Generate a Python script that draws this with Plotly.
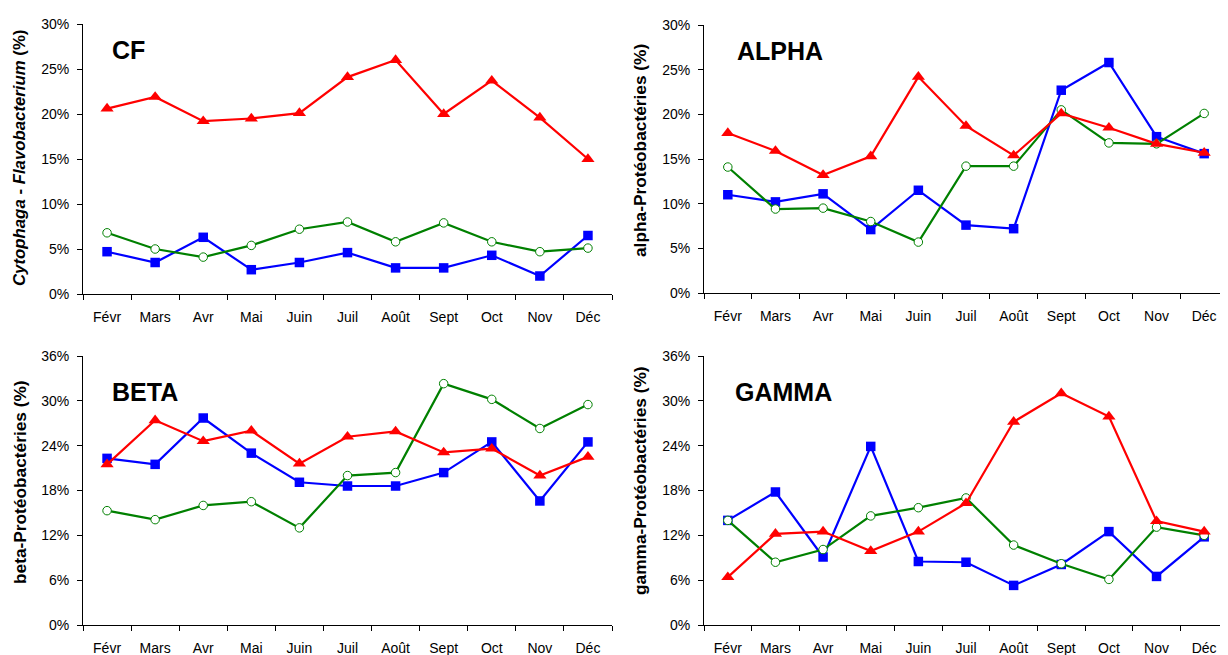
import plotly.graph_objects as go

months = ["Févr", "Mars", "Avr", "Mai", "Juin", "Juil", "Août", "Sept", "Oct", "Nov", "Déc"]

cf_red = [20.6, 21.9, 19.2, 19.5, 20.1, 24.1, 26.0, 20.0, 23.7, 19.6, 15.0]
cf_green = [6.8, 5.0, 4.1, 5.4, 7.2, 8.0, 5.8, 7.9, 5.8, 4.7, 5.1]
cf_blue = [4.7, 3.5, 6.3, 2.7, 3.5, 4.6, 2.9, 2.9, 4.3, 2.0, 6.5]

alpha_red = [17.9, 15.9, 13.2, 15.3, 24.2, 18.7, 15.4, 20.1, 18.5, 16.7, 15.7]
alpha_green = [14.1, 9.4, 9.5, 8.0, 5.7, 14.2, 14.2, 20.5, 16.8, 16.7, 20.1]
alpha_blue = [11.0, 10.2, 11.1, 7.1, 11.5, 7.6, 7.2, 22.7, 25.8, 17.5, 15.6]

beta_red = [21.5, 27.4, 24.6, 26.0, 21.6, 25.2, 25.9, 23.1, 23.6, 20.0, 22.5]
beta_green = [15.3, 14.1, 16.0, 16.5, 13.0, 20.0, 20.4, 32.3, 30.2, 26.3, 29.5]
beta_blue = [22.3, 21.5, 27.7, 23.0, 19.1, 18.6, 18.6, 20.4, 24.5, 16.6, 24.5]

gamma_red = [6.4, 12.2, 12.5, 9.9, 12.5, 16.3, 27.2, 31.0, 27.9, 13.9, 12.5]
gamma_green = [14.0, 8.4, 10.1, 14.6, 15.7, 17.0, 10.7, 8.2, 6.1, 13.1, 12.0]
gamma_blue = [14.0, 17.8, 9.1, 23.9, 8.5, 8.4, 5.3, 8.1, 12.5, 6.5, 11.8]

panel_names = ["CF", "ALPHA", "BETA", "GAMMA"]
y_titles = [
    "<i>Cytophaga</i> - <i>Flavobacterium</i> (%)",
    "alpha-Protéobactéries (%)",
    "beta-Protéobactéries (%)",
    "gamma-Protéobactéries (%)",
]
y_ticks = [[0, 5, 10, 15, 20, 25, 30], [0, 5, 10, 15, 20, 25, 30],
           [0, 6, 12, 18, 24, 30, 36], [0, 6, 12, 18, 24, 30, 36]]
series = [
    (cf_blue, cf_green, cf_red),
    (alpha_blue, alpha_green, alpha_red),
    (beta_blue, beta_green, beta_red),
    (gamma_blue, gamma_green, gamma_red),
]

# the page body has an 8px default margin, so lay out in page pixels minus 8
OFF = 8
W, H = 1228 - OFF, 655 - OFF


def fx(p):
    return (p - OFF) / W


def fy(p):
    return 1 - (p - OFF) / H


# pixel boxes in page coords: left, right, top, bottom
boxes = [(83, 612, 24, 294), (704, 1228, 25, 293), (83, 612, 356, 625), (704, 1228, 356, 625)]
title_x = [20, 640, 20, 640]
title_y = [158, 151, 482, 481]
title_size = [16.8, 17.3, 17.3, 17.3]
label_pos = [(110, 49.5), (735, 51.5), (110, 392), (733, 392)]

FONT = "Liberation Sans, Arial, sans-serif"
fig = go.Figure()

for i in range(4):
    ax = "" if i == 0 else str(i + 1)
    xa, ya = "x" + ax, "y" + ax
    blue, green, red = series[i]
    fig.add_trace(go.Scatter(x=months, y=blue, xaxis=xa, yaxis=ya, mode="lines+markers",
                             line=dict(color="#0000FF", width=2.2),
                             marker=dict(symbol="square", size=9.5, color="#0000FF"),
                             showlegend=False, cliponaxis=False))
    fig.add_trace(go.Scatter(x=months, y=green, xaxis=xa, yaxis=ya, mode="lines+markers",
                             line=dict(color="#008000", width=2.2),
                             marker=dict(symbol="circle", size=8.5, color="white",
                                         line=dict(color="#008000", width=1)),
                             showlegend=False, cliponaxis=False))
    fig.add_trace(go.Scatter(x=months, y=red, xaxis=xa, yaxis=ya, mode="lines+markers",
                             line=dict(color="#FF0000", width=2.2),
                             marker=dict(symbol="triangle-up", size=11.5, color="#FF0000"),
                             showlegend=False, cliponaxis=False))

    l, r, t, b = boxes[i]
    top = y_ticks[i][-1]
    fig.update_layout(**{
        "xaxis" + ax: dict(domain=[fx(l), min(fx(r), 1)], anchor=ya, type="category",
                           categoryorder="array", categoryarray=months,
                           range=[-0.5, 10.5], tickson="boundaries",
                           ticks="outside", ticklen=5, tickcolor="black",
                           showline=True, linecolor="black", linewidth=1,
                           showgrid=False, zeroline=False, ticklabelstandoff=10,
                           automargin=False,
                           tickfont=dict(family=FONT, size=14, color="black")),
        "yaxis" + ax: dict(domain=[fy(b), fy(t)], anchor=xa,
                           range=[0, top], tickvals=y_ticks[i],
                           ticktext=[f"{v}%" for v in y_ticks[i]],
                           ticks="outside", ticklen=5, tickcolor="black",
                           showline=True, linecolor="black", linewidth=1,
                           showgrid=False, zeroline=False, ticklabelstandoff=5,
                           automargin=False,
                           tickfont=dict(family=FONT, size=14, color="black")),
    })
    fig.add_annotation(x=fx(title_x[i]), y=fy(title_y[i]), xref="paper", yref="paper",
                       text="<b>" + y_titles[i] + "</b>", textangle=-90, showarrow=False,
                       xanchor="center", yanchor="middle",
                       font=dict(family=FONT, size=title_size[i], color="black"))
    lx, ly = label_pos[i]
    fig.add_annotation(x=fx(lx), y=fy(ly), xref="paper", yref="paper",
                       text="<b>" + panel_names[i] + "</b>", showarrow=False,
                       xanchor="left", yanchor="middle",
                       font=dict(family=FONT, size=25, color="black"))

fig.update_layout(width=W, height=H, margin=dict(l=0, r=0, t=0, b=0, pad=0),
                  paper_bgcolor="white", plot_bgcolor="white",
                  font=dict(family=FONT))

fig.write_html("out.html")
